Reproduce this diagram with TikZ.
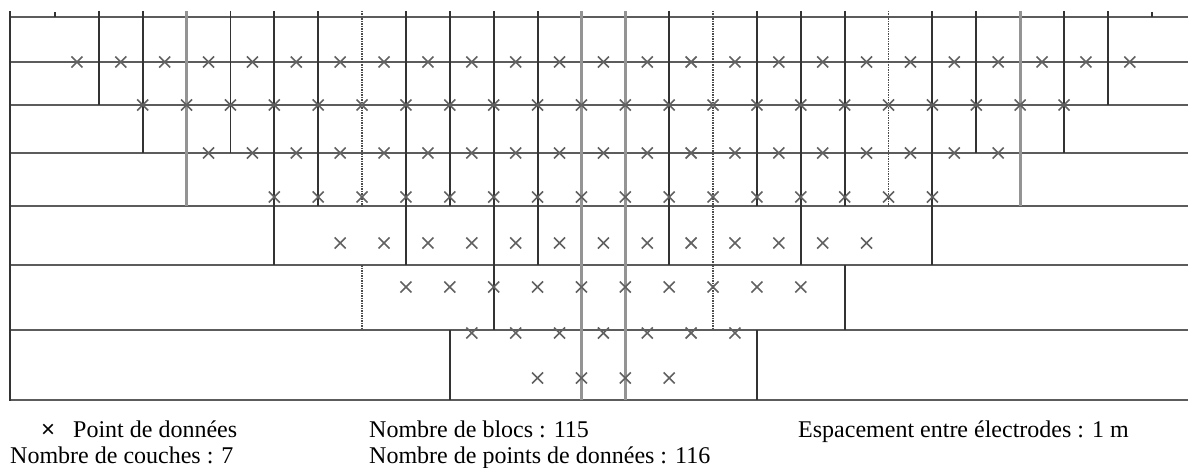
\documentclass[tikz,border=0pt]{standalone}
\usepackage{fontspec}
\setmainfont{Liberation Serif}
\newfontfamily\lgdsans{Liberation Sans}
\usetikzlibrary{positioning}
\tikzset{
  hln/.style={draw=black!64, line width=2.6pt},
  vln/.style={draw=black!80, line width=1.9pt},
  vgry/.style={draw=black!42, line width=2.8pt},
  vdot/.style={draw=black!70, line width=1.6pt, dash pattern=on 1.5pt off 1pt},
  vsel/.code={\pgfkeysalso{vln}%
    \ifnum#1=3 \pgfkeysalso{vgry}\fi \ifnum#1=12 \pgfkeysalso{vgry}\fi
    \ifnum#1=13 \pgfkeysalso{vgry}\fi \ifnum#1=22 \pgfkeysalso{vgry}\fi
    \ifnum#1=7 \pgfkeysalso{vdot}\fi \ifnum#1=15 \pgfkeysalso{vdot}\fi
    \ifnum#1=19 \pgfkeysalso{vdot}\fi},
  dat/.style={draw=black!62, line width=1.6pt},
  lgd/.style={font=\fontsize{24}{28}\selectfont, anchor=base west, inner sep=0pt},
}
\newcommand\datpt[2]{\draw[dat] (#1,#2) +(-5.5pt,-5.5pt) -- +(5.5pt,5.5pt) +(-5.5pt,5.5pt) -- +(5.5pt,-5.5pt);}
\newcommand\blkrow[3]{\foreach \j in {#3} \draw[vsel=\j] (\j,#1) -- (\j,#2);}

\begin{document}
\begin{tikzpicture}
\useasboundingbox (0,0) rectangle (1188pt,-468pt);
\begin{scope}[shift={(55pt,0)}, x=43.87pt, y=-1pt]
% layers and blocks
\foreach \yy in {17,62,105,153,206,265,330,400} \draw[hln] (-1.026,\yy) -- (25.83,\yy);
\draw[vln] (-1.026,11) -- (-1.026,401);
\draw[vln] (0,12) -- (0,17); \draw[vln] (25,12) -- (25,17);
\blkrow{11}{62}{1,...,24}
\blkrow{62}{105}{1,...,24}
\blkrow{105}{153}{2,...,23}
\blkrow{153}{206}{3,5,6,...,20,22}
\blkrow{206}{265}{5,8,10,11,12,13,14,15,17,20}
\blkrow{265}{330}{7,10,12,13,15,18}
\blkrow{330}{400}{9,12,13,16}
% data points
\foreach \j in {0.5,1.5,...,24.5} \datpt{\j}{62};
\foreach \j in {2,...,23} \datpt{\j}{105};
\foreach \j in {3.5,4.5,...,21.5} \datpt{\j}{153};
\foreach \j in {5,...,20} \datpt{\j}{197};
\foreach \j in {6.5,7.5,...,18.5} \datpt{\j}{243};
\foreach \j in {8,...,17} \datpt{\j}{287};
\foreach \j in {9.5,10.5,...,15.5} \datpt{\j}{333};
\foreach \j in {11,...,14} \datpt{\j}{378};
\end{scope}
% legend
\node[lgd] (mk) at (41pt,-437pt) {\lgdsans ×};
\node[lgd] (pd) at (73pt,-437pt) {Point de données};
\node[lgd] (nc) at (10pt,-463pt) {Nombre de couches : 7};
\node[lgd] (nb) at (369pt,-437pt) {Nombre de blocs : 115};
\node[lgd] (np) at (369pt,-463pt) {Nombre de points de données : 116};
\node[lgd] (es) at (798pt,-437pt) {Espacement entre électrodes : 1 m};
\end{tikzpicture}
\end{document}
